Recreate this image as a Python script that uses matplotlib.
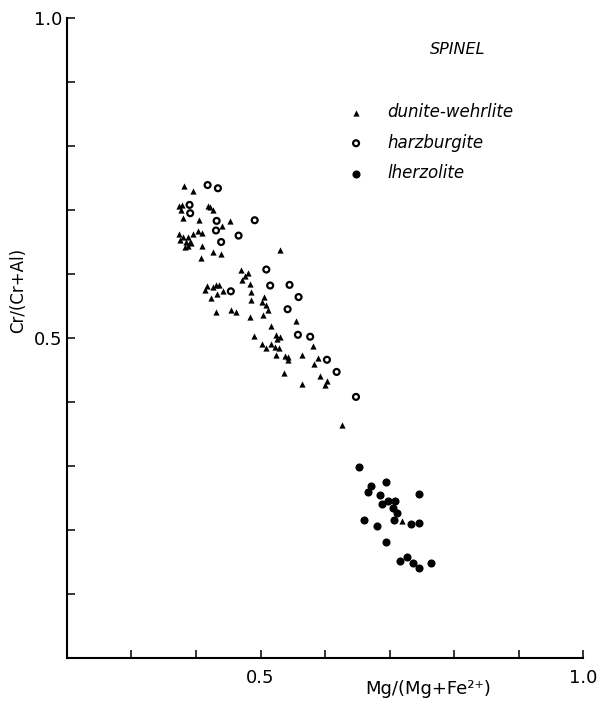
import numpy as np
import matplotlib
matplotlib.use("Agg")
import matplotlib.pyplot as plt

# spinel compositions, Mg/(Mg+Fe2+) vs Cr/(Cr+Al)
dunite_mg = [0.382, 0.395, 0.374, 0.379, 0.376, 0.380, 0.405, 0.418, 0.422, 0.426,
             0.452, 0.440, 0.374, 0.380, 0.387, 0.396, 0.403, 0.410, 0.375, 0.384,
             0.391, 0.383, 0.388, 0.393, 0.410, 0.407, 0.427, 0.438, 0.530, 0.470,
             0.481, 0.476, 0.471, 0.483, 0.417, 0.414, 0.426, 0.431, 0.436, 0.442,
             0.432, 0.423, 0.486, 0.486, 0.505, 0.503, 0.509, 0.511, 0.504, 0.431,
             0.455, 0.462, 0.484, 0.555, 0.517, 0.490, 0.524, 0.530, 0.526, 0.503,
             0.509, 0.517, 0.522, 0.528, 0.524, 0.542, 0.538, 0.543, 0.564, 0.581,
             0.589, 0.583, 0.537, 0.564, 0.593, 0.603, 0.600, 0.626, 0.720]
dunite_cr = [0.738, 0.730, 0.706, 0.708, 0.700, 0.688, 0.684, 0.707, 0.704, 0.700,
             0.683, 0.675, 0.662, 0.658, 0.658, 0.663, 0.667, 0.664, 0.653, 0.650,
             0.650, 0.642, 0.644, 0.648, 0.644, 0.625, 0.635, 0.631, 0.638, 0.607,
             0.601, 0.597, 0.591, 0.585, 0.582, 0.575, 0.580, 0.583, 0.583, 0.574,
             0.569, 0.563, 0.572, 0.559, 0.564, 0.557, 0.552, 0.544, 0.536, 0.541,
             0.544, 0.540, 0.533, 0.526, 0.518, 0.503, 0.505, 0.502, 0.498, 0.491,
             0.484, 0.491, 0.486, 0.484, 0.473, 0.470, 0.472, 0.466, 0.473, 0.488,
             0.468, 0.460, 0.445, 0.428, 0.441, 0.433, 0.426, 0.364, 0.214]

harz_mg = [0.418, 0.434, 0.390, 0.391, 0.432, 0.431, 0.491, 0.466, 0.439, 0.509,
           0.515, 0.545, 0.454, 0.559, 0.542, 0.558, 0.577, 0.603, 0.618, 0.648]
harz_cr = [0.739, 0.734, 0.708, 0.695, 0.683, 0.668, 0.684, 0.660, 0.650, 0.607,
           0.582, 0.583, 0.573, 0.564, 0.545, 0.505, 0.502, 0.466, 0.447, 0.408]

lherz_mg = [0.653, 0.672, 0.667, 0.695, 0.686, 0.746, 0.689, 0.697, 0.709, 0.706,
            0.712, 0.707, 0.660, 0.680, 0.734, 0.746, 0.695, 0.716, 0.727, 0.736,
            0.746, 0.764]
lherz_cr = [0.298, 0.268, 0.260, 0.275, 0.254, 0.256, 0.240, 0.245, 0.245, 0.234,
            0.226, 0.216, 0.215, 0.207, 0.210, 0.211, 0.181, 0.152, 0.158, 0.148,
            0.140, 0.148]

xticks = [0.3, 0.4, 0.5, 0.6, 0.7, 0.8, 0.9, 1.0]
xticklabels = ["", "", "0.5", "", "", "", "", "1.0"]
yticks = [0.1, 0.2, 0.3, 0.4, 0.5, 0.6, 0.7, 0.8, 0.9, 1.0]
yticklabels = ["", "", "", "", "0.5", "", "", "", "", "1.0"]

plt.rcParams["font.family"] = "DejaVu Sans"

fig = plt.figure(figsize=(5.98, 7.14), dpi=100)
ax = fig.add_axes([0.112, 0.0784, 0.863, 0.8964])

t = ax.scatter(dunite_mg, dunite_cr, marker="^", s=20, c="black", linewidths=0,
               label="dunite-wehrlite")
h = ax.scatter(harz_mg, harz_cr, marker="o", s=18, facecolors="none",
               edgecolors="black", linewidths=1.6, label="harzburgite")
l = ax.scatter(lherz_mg, lherz_cr, marker="o", s=34, c="black", linewidths=0,
               label="lherzolite")

ax.set_xlim(0.2, 1.0)
ax.set_ylim(0.0, 1.0)
ax.spines["top"].set_visible(False)
ax.spines["right"].set_visible(False)
for s in ("left", "bottom"):
    ax.spines[s].set_linewidth(1.5)

ax.set_xticks(xticks, xticklabels)
ax.set_yticks(yticks, yticklabels)
ax.tick_params(axis="x", direction="in", length=6, width=1.1, pad=8, labelsize=13)
ax.tick_params(axis="y", direction="in", length=6, width=1.1, pad=3, labelsize=13)

ax.set_xlabel("Mg/(Mg+Fe²⁺)", fontsize=13)
ax.xaxis.set_label_coords(0.70, -0.034)
ax.xaxis.label.set_va("top")
ax.set_ylabel("Cr/(Cr+Al)", fontsize=12)
ax.yaxis.set_label_coords(-0.078, 0.575)

ax.text(0.805, 0.95, "SPINEL", fontsize=11.5, style="italic", ha="center", va="center")

leg = ax.legend(handles=[t, h, l], loc="upper left", bbox_to_anchor=(0.544, 0.867),
                frameon=False, borderpad=0, borderaxespad=0, handlelength=1.0,
                handletextpad=1.4, labelspacing=0.75, scatterpoints=1,
                prop={"size": 12, "style": "italic"})

fig.savefig("out.png", dpi=100)
